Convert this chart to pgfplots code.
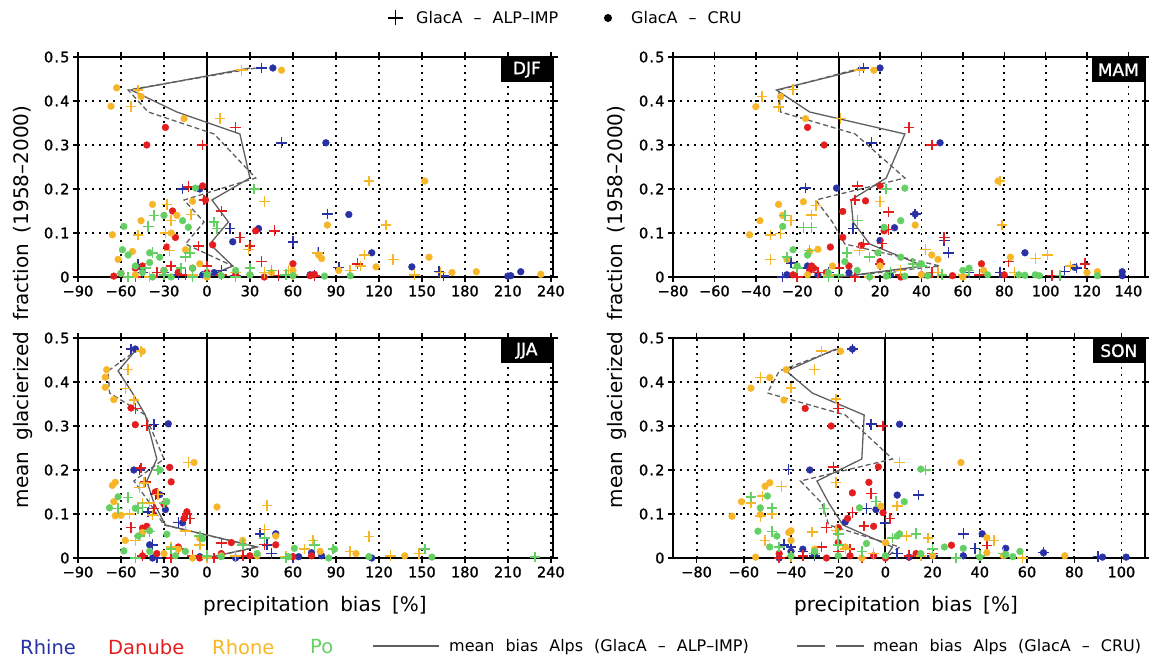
\documentclass[border=0pt]{standalone}
\usepackage{fontspec}
\setmainfont{DejaVu Sans}
\newfontfamily\tickfont[FakeBold=1.3]{DejaVu Sans}
\usepackage{pgfplots}
\pgfplotsset{compat=1.18}
\definecolor{rhine}{RGB}{40,50,165}
\definecolor{danube}{RGB}{228,30,30}
\definecolor{rhone}{RGB}{246,182,40}
\definecolor{po}{RGB}{100,208,100}
\definecolor{meangray}{RGB}{95,95,95}
\newcommand{\pt}{\kern1.2pt.\kern1.2pt}
\pgfplotsset{
 panel/.style={scale only axis, height=220pt, anchor=south west, clip=false,
  ymin=0, ymax=0.5, ytick={0,0.1,0.2,0.3,0.4,0.5}, yticklabels={0,0\pt1,0\pt2,0\pt3,0\pt4,0\pt5},
  xmajorgrids, ymajorgrids,
  major grid style={black, line width=1.8pt, dash pattern=on 1.8pt off 5.2pt},
  axis line style={line width=2.4pt, black},
  tick style={black, line width=1.4pt}, tick align=outside, major tick length=5pt,
  ticklabel style={font=\tickfont\fontsize{14.5}{14.5}\selectfont},
  /pgf/number format/assume math mode=true,
 },
 pl/.style={only marks, mark=+, mark size=5.3pt, mark options={line width=1.5pt}},
 dt/.style={only marks, mark=*, mark size=3.4pt, mark options={draw=none}},
 ms/.style={meangray, line width=1.3pt, no marks},
 md/.style={meangray, line width=1.3pt, no marks, dash pattern=on 5pt off 3pt},
}
\tikzset{boxlab/.style={anchor=north east, fill=black, text=white, inner xsep=6pt, minimum width=52pt, minimum height=25pt, font=\tickfont\fontsize{17}{17}\selectfont}}
\newcommand{\gap}{\hspace{11pt}}
\begin{document}
\begin{tikzpicture}[x=1pt,y=1pt]
\path[use as bounding box] (0,0) rectangle (1149,659);

% ---------------- DJF
\begin{axis}[panel, at={(78pt,382pt)}, width=475pt, xmin=-90, xmax=241.5,
  xtick={-90,-60,...,240}, xticklabels={−90,−60,−30,0,30,60,90,120,150,180,210,240}]
\draw[line width=2pt] (axis cs:0,0) -- (axis cs:0,0.5);
\addplot[pl, rhine] coordinates {(38,0.475) (52,0.305) (-17,0.2) (16,0.11) (84,0.143) (60,0.08) (78,0.055) (92,0.022) (162,0.012) (165,0.002) (-48,0.028) (-45,0.01) (-30,0.01) (10,0.015) (20,0.002) (-20,0.005) (75,0.003)};
\addplot[dt, rhine] coordinates {(46,0.475) (83,0.305) (-5,0.2) (36,0.11) (18,0.08) (99,0.142) (115,0.055) (143,0.023) (210,0.002) (219,0.012) (212,0.003) (72,0.005) (-3,0.005) (-20,0.01) (-45,0.02) (5,0.01)};
\addplot[pl, danube] coordinates {(20,0.34) (-3,0.3) (-13,0.205) (-2,0.175) (10,0.15) (23,0.09) (30,0.07) (47,0.105) (-6,0.07) (38,0.035) (105,0.03) (-25,0.025) (0,0.025) (-35,0.01) (-15,0.005) (10,0.005) (50,0.003) (75,0.002) (20,0.0) (-50,0.0)};
\addplot[dt, danube] coordinates {(-29,0.34) (-42,0.3) (-3,0.207) (-1,0.175) (-24,0.15) (-22,0.09) (-28,0.068) (34,0.105) (4,0.073) (60,0.03) (-65,0.002) (-60,0.008) (-50,0.02) (-45,0.025) (-30,0.015) (-20,0.01) (-10,0.02) (0,0.01) (20,0.005) (40,0.0) (72,0.003) (75,0.006)};
\addplot[pl, rhone] coordinates {(24,0.47) (-48,0.425) (-53,0.388) (9,0.36) (113,0.218) (40,0.172) (-28,0.165) (-25,0.128) (-11,0.142) (-29,0.1) (-48,0.095) (125,0.118) (29,0.062) (-26,0.06) (77,0.055) (130,0.04) (110,0.05) (107,0.025) (100,0.015) (145,0.005) (163,0.01) (57,0.015) (40,0.01) (20,0.01) (-40,0.0) (-10,0.005) (60,0.005)};
\addplot[dt, rhone] coordinates {(52,0.47) (-63,0.43) (-67,0.388) (-46,0.41) (-16,0.36) (152,0.218) (-38,0.165) (-46,0.128) (-21,0.14) (-10,0.172) (84,0.118) (-66,0.096) (-25,0.1) (-62,0.04) (-52,0.058) (-15,0.062) (80,0.042) (78,0.05) (155,0.045) (118,0.023) (171,0.01) (188,0.012) (233,0.006) (92,0.015) (60,0.015) (45,0.01) (-5,0.03) (-50,0.005) (0,0.0) (30,0.005)};
\addplot[pl, po] coordinates {(33,0.2) (-37,0.14) (-41,0.115) (5,0.125) (7,0.11) (-15,0.045) (-12,0.055) (-38,0.055) (-43,0.02) (-30,0.005) (-18,0.02) (30,0.02) (45,0.015) (20,0.0) (0,0.01) (-55,0.0) (-10,0.0) (55,0.005)};
\addplot[dt, po] coordinates {(-8,0.202) (-30,0.14) (-58,0.115) (-17,0.128) (-13,0.113) (-59,0.062) (-55,0.05) (-40,0.055) (-33,0.045) (-40,0.033) (-50,0.025) (-45,0.01) (-38,0.0) (-30,0.015) (-10,0.02) (0,0.005) (10,0.003) (20,0.015) (30,0.005) (60,0.003) (82,0.002) (100,0.003) (-60,0.008) (-25,0.0)};
\addplot[ms] coordinates {(30,0.475) (-53,0.425) (-21,0.375) (23,0.325) (30,0.225) (3.5,0.175) (15,0.125) (2,0.075) (18,0.025) (0,0)};
\addplot[md] coordinates {(34,0.475) (-55,0.425) (-41,0.375) (5,0.325) (34,0.225) (-16,0.175) (-2,0.125) (-15,0.075) (18,0.025) (0,0)};
\node[boxlab] at (rel axis cs:1,1) {DJF};
\end{axis}

% ---------------- MAM
\begin{axis}[panel, at={(673pt,382pt)}, width=472pt, xmin=-80, xmax=148,
  xtick={-80,-60,...,140}, xticklabels={−80,−60,−40,−20,0,20,40,60,80,100,120,140}]
\draw[line width=2pt] (axis cs:0,0) -- (axis cs:0,0.5);
\addplot[pl, rhine] coordinates {(12,0.475) (16,0.305) (-16,0.202) (7,0.11) (51,0.083) (53,0.055) (37,0.143) (-23,0.032) (109,0.012) (78,0.01) (-15,0.02) (-5,0.01) (-27,0.0) (63,0.01) (115,0.02)};
\addplot[dt, rhine] coordinates {(20,0.475) (49,0.305) (-1,0.202) (27,0.112) (20,0.083) (37,0.143) (90,0.055) (114,0.022) (137,0.012) (137,0.003) (-15,0.025) (-10,0.005) (5,0.01) (25,0.005) (-25,0.005)};
\addplot[pl, danube] coordinates {(34,0.34) (45,0.3) (9,0.207) (8,0.175) (24,0.148) (24,0.108) (21,0.076) (51,0.09) (12,0.075) (119,0.03) (82,0.035) (-10,0.01) (0,0.02) (20,0.03) (45,0.01) (68,0.005) (103,0.003) (-20,0.0) (30,0.005) (8,0.0)};
\addplot[dt, danube] coordinates {(-15,0.34) (-7,0.3) (20,0.207) (13,0.173) (2,0.149) (22,0.105) (-4,0.068) (2,0.09) (11,0.072) (69,0.03) (-13,0.025) (-12,0.02) (-14,0.015) (5,0.025) (20,0.035) (40,0.005) (80,0.005) (-22,0.005) (-6,0.01) (30,0.0) (55,0.003)};
\addplot[pl, rhone] coordinates {(10,0.47) (-22,0.426) (-37,0.41) (-29,0.386) (1,0.36) (78,0.218) (20,0.172) (-11,0.163) (-13,0.141) (-23,0.128) (-33,0.095) (-28,0.099) (79,0.118) (-33,0.04) (10,0.06) (42,0.062) (95,0.042) (101,0.05) (112,0.025) (48,0.01) (60,0.005) (30,0.015) (15,0.0) (-5,0.005) (85,0.01)};
\addplot[dt, rhone] coordinates {(17,0.47) (-28,0.41) (-40,0.387) (-16,0.36) (77,0.218) (-29,0.165) (-17,0.171) (-27,0.14) (-38,0.128) (-43,0.096) (37,0.118) (-10,0.063) (-14,0.058) (-25,0.04) (45,0.05) (48,0.04) (83,0.045) (70,0.015) (120,0.01) (125,0.012) (-3,0.025) (20,0.025) (40,0.005) (-15,0.005) (60,0.0)};
\addplot[pl, po] coordinates {(23,0.2) (-26,0.14) (-17,0.113) (-13,0.113) (9,0.128) (-25,0.045) (-14,0.06) (4,0.055) (15,0.045) (36,0.03) (40,0.025) (63,0.015) (-5,0.0) (0,0.005) (25,0.01) (107,0.003) (-20,0.02) (50,0.005)};
\addplot[dt, po] coordinates {(32,0.202) (30,0.128) (22,0.113) (-27,0.115) (-22,0.062) (-15,0.05) (19,0.055) (3,0.035) (-20,0.025) (9,0.015) (30,0.045) (40,0.03) (32,0.002) (43,0.003) (60,0.015) (63,0.02) (72,0.005) (87,0.005) (90,0.004) (95,0.005) (97,0.003) (125,0.003) (-5,0.01) (23,0.002) (15,0.0)};
\addplot[ms] coordinates {(13,0.475) (-30,0.425) (-14,0.375) (32,0.325) (23,0.225) (6,0.175) (7,0.125) (15,0.075) (41,0.025) (0,0)};
\addplot[md] coordinates {(11,0.475) (-29,0.425) (-28,0.375) (8,0.325) (32,0.225) (-11,0.175) (-3,0.125) (3,0.075) (49,0.025) (0,0)};
\node[boxlab] at (rel axis cs:1,1) {MAM};
\end{axis}

% ---------------- JJA
\begin{axis}[panel, at={(78pt,101pt)}, width=475pt, xmin=-90, xmax=241.5,
  xtick={-90,-60,...,240}, xticklabels={−90,−60,−30,0,30,60,90,120,150,180,210,240}]
\draw[line width=2pt] (axis cs:0,0) -- (axis cs:0,0.5);
\addplot[pl, rhine] coordinates {(-53,0.475) (-37,0.303) (-47,0.2) (-41,0.105) (-20,0.081) (-36,0.145) (37,0.055) (42,0.03) (45,0.01) (-38,0.03) (-35,0.0) (0,0.0) (20,0.005) (60,0.0)};
\addplot[dt, rhine] coordinates {(-50,0.475) (-27,0.305) (-51,0.2) (-29,0.11) (-17,0.08) (-33,0.144) (-40,0.03) (-38,0.0) (48,0.055) (73,0.012) (80,0.005) (115,0.0) (64,0.003) (-5,0.003) (20,0.0)};
\addplot[pl, danube] coordinates {(-50,0.34) (-42,0.301) (-46,0.205) (-43,0.173) (-35,0.146) (-12,0.09) (-53,0.069) (-37,0.113) (-14,0.1) (10,0.034) (40,0.031) (-20,0.02) (-45,0.005) (-25,0.0) (5,0.0) (25,0.005) (-10,0.005)};
\addplot[dt, danube] coordinates {(-53,0.341) (-50,0.303) (-26,0.206) (-25,0.173) (-36,0.15) (-14,0.105) (-16,0.09) (-42,0.072) (-45,0.068) (-30,0.122) (-20,0.025) (-45,0.005) (-35,0.01) (17,0.035) (48,0.03) (73,0.005) (-5,0.0) (10,0.01) (30,0.005) (60,0.003)};
\addplot[pl, rhone] coordinates {(-46,0.47) (-55,0.428) (-57,0.385) (-51,0.359) (-13,0.217) (-44,0.171) (-47,0.16) (-34,0.144) (-45,0.125) (-54,0.1) (-38,0.098) (-50,0.04) (-15,0.061) (42,0.119) (40,0.065) (113,0.049) (-40,0.125) (74,0.04) (68,0.02) (100,0.015) (128,0.005) (148,0.01) (-25,0.025) (-5,0.03) (20,0.005) (0,0.0) (55,0.003)};
\addplot[dt, rhone] coordinates {(-45,0.47) (-70,0.428) (-71,0.411) (-71,0.388) (-65,0.36) (-9,0.217) (-64,0.172) (-66,0.165) (-65,0.128) (-64,0.096) (-60,0.097) (-57,0.04) (-45,0.058) (7,0.116) (-5,0.045) (25,0.04) (48,0.05) (79,0.015) (104,0.01) (138,0.005) (-20,0.02) (-30,0.01) (35,0.005) (-10,0.0) (10,0.005)};
\addplot[pl, po] coordinates {(-34,0.2) (-55,0.138) (-62,0.112) (-48,0.113) (-40,0.06) (-47,0.05) (-50,0.0) (-30,0.125) (-45,0.115) (-5,0.05) (25,0.03) (40,0.045) (75,0.03) (88,0.02) (152,0.02) (229,0.002) (-25,0.02) (0,0.005) (55,0.0)};
\addplot[dt, po] coordinates {(-33,0.2) (-28,0.128) (-68,0.114) (-62,0.139) (-50,0.113) (-40,0.062) (-48,0.05) (-58,0.016) (-28,0.054) (-3,0.044) (61,0.022) (89,0.02) (-22,0.005) (10,0.003) (35,0.01) (57,0.003) (85,0.0) (113,0.003) (157,0.002) (-40,0.015) (-15,0.015)};
\addplot[ms] coordinates {(-49,0.475) (-62,0.425) (-52,0.375) (-43,0.325) (-35,0.225) (-42,0.175) (-37,0.125) (-29,0.075) (35,0.025) (0,0)};
\addplot[md] coordinates {(-48,0.475) (-69,0.425) (-68,0.375) (-43,0.325) (-30,0.225) (-51,0.175) (-40,0.125) (-30,0.075) (35,0.025) (0,0)};
\node[boxlab] at (rel axis cs:1,1) {JJA};
\end{axis}

% ---------------- SON
\begin{axis}[panel, at={(673pt,101pt)}, width=472pt, xmin=-90, xmax=110,
  xtick={-80,-60,...,100}, xticklabels={−80,−60,−40,−20,0,20,40,60,80,100}]
\draw[line width=2pt] (axis cs:0,0) -- (axis cs:0,0.5);
\addplot[pl, rhine] coordinates {(-14,0.475) (-6,0.304) (-41,0.201) (14,0.143) (-8,0.112) (0,0.08) (33,0.055) (38,0.022) (67,0.012) (90,0.003) (-43,0.03) (-35,0.015) (-30,0.005) (-40,0.025) (-10,0.0) (20,0.005) (5,0.01)};
\addplot[dt, rhine] coordinates {(-14,0.475) (6,0.304) (-32,0.2) (5,0.143) (-4,0.11) (-17,0.082) (41,0.055) (51,0.022) (67,0.012) (92,0.002) (102,0.002) (-35,0.02) (-40,0.015) (-30,0.01) (33,0.005) (-45,0.0) (10,0.002)};
\addplot[pl, danube] coordinates {(-20,0.34) (-1,0.3) (-22,0.207) (-21,0.172) (-6,0.147) (-14,0.103) (2,0.09) (-9,0.073) (-25,0.069) (-27,0.025) (43,0.028) (-20,0.015) (-45,0.0) (-10,0.0) (10,0.005) (20,0.01) (-35,0.005) (-15,0.02)};
\addplot[dt, danube] coordinates {(-34,0.34) (-23,0.3) (-3,0.207) (-7,0.172) (-14,0.148) (-1,0.103) (-16,0.09) (-5,0.072) (-20,0.069) (28,0.029) (-20,0.035) (-45,0.01) (-30,0.015) (-15,0.005) (0,0.0) (13,0.01) (-25,0.0) (-5,0.005)};
\addplot[pl, rhone] coordinates {(-27,0.47) (-30,0.428) (-53,0.41) (-40,0.386) (-21,0.361) (6,0.217) (-44,0.162) (-21,0.172) (-52,0.141) (-57,0.125) (-48,0.1) (-53,0.095) (5,0.118) (-31,0.059) (-21,0.062) (-51,0.04) (9,0.05) (18,0.045) (46,0.04) (-17,0.02) (-5,0.01) (15,0.005) (30,0.0) (58,0.0) (-40,0.003)};
\addplot[dt, rhone] coordinates {(-19,0.47) (-42,0.428) (-49,0.41) (-57,0.386) (-43,0.359) (32,0.217) (-49,0.171) (-51,0.163) (-61,0.128) (-65,0.095) (-53,0.099) (-2,0.118) (-40,0.062) (-41,0.058) (-40,0.04) (-55,0.002) (-17,0.025) (0,0.035) (43,0.046) (43,0.012) (76,0.005) (20,0.005) (-10,0.0) (50,0.005) (-30,0.02)};
\addplot[pl, po] coordinates {(17,0.2) (-57,0.139) (-48,0.114) (-26,0.113) (-4,0.128) (-48,0.06) (-20,0.055) (13,0.055) (3,0.045) (20,0.02) (-30,0.01) (-45,0.025) (-10,0.015) (30,0.0) (40,0.005) (-20,0.03) (50,0.01)};
\addplot[dt, po] coordinates {(15,0.202) (8,0.128) (-11,0.114) (-53,0.114) (-50,0.141) (-54,0.061) (-46,0.05) (-8,0.033) (6,0.055) (5,0.05) (-49,0.025) (-30,0.015) (25,0.025) (33,0.022) (57,0.015) (51,0.008) (54,0.003) (-40,0.005) (-20,0.005) (0,0.005) (15,0.01) (40,0.002)};
\addplot[ms] coordinates {(-21,0.475) (-42,0.425) (-31,0.375) (-9,0.325) (-10,0.225) (-29,0.175) (-24,0.125) (-18,0.075) (3,0.025) (0,0)};
\addplot[md] coordinates {(-20,0.475) (-45,0.425) (-50,0.375) (-17,0.325) (3,0.225) (-36,0.175) (-27,0.125) (-24,0.075) (6,0.025) (0,0)};
\node[boxlab] at (rel axis cs:1,1) {SON};
\end{axis}

% ---------------- axis titles
\node[font=\fontsize{20}{20}\selectfont] at (315pt,53pt) {precipitation\gap bias\gap [\%]};
\node[font=\fontsize{20}{20}\selectfont] at (906pt,53pt) {precipitation\gap bias\gap [\%]};
\node[font=\fontsize{20}{20}\selectfont, rotate=90] at (23pt,352pt) {mean\gap glacierized\gap fraction\gap (1958–2000)};
\node[font=\fontsize{20}{20}\selectfont, rotate=90] at (617pt,352pt) {mean\gap glacierized\gap fraction\gap (1958–2000)};

% ---------------- top legend
\draw[line width=1.4pt] (388pt,641pt) -- (403pt,641pt) (395.5pt,633.5pt) -- (395.5pt,648.5pt);
\node[anchor=west, font=\fontsize{16}{16}\selectfont, inner sep=0pt] at (416pt,641pt) {GlacA\gap–\gap ALP–IMP};
\fill (608pt,641pt) circle (4pt);
\node[anchor=west, font=\fontsize{16}{16}\selectfont, inner sep=0pt] at (631pt,641pt) {GlacA\gap–\gap CRU};

% ---------------- bottom legend
\node[anchor=west, font=\fontsize{19.5}{19.5}\selectfont, text=rhine, inner sep=0pt] at (20pt,12pt) {Rhine};
\node[anchor=west, font=\fontsize{19.5}{19.5}\selectfont, text=danube, inner sep=0pt] at (108pt,12pt) {Danube};
\node[anchor=west, font=\fontsize{19.5}{19.5}\selectfont, text=rhone, inner sep=0pt] at (212pt,12pt) {Rhone};
\node[anchor=west, font=\fontsize{19.5}{19.5}\selectfont, text=po, inner sep=0pt] at (310pt,12pt) {Po};
\draw[meangray, line width=1.4pt] (373pt,13pt) -- (439pt,13pt);
\node[anchor=west, font=\fontsize{16}{16}\selectfont, inner sep=0pt] at (449pt,12pt) {mean\gap bias\gap Alps\gap (GlacA\gap–\gap ALP–IMP)};
\draw[meangray, line width=1.4pt] (797pt,13pt) -- (825pt,13pt) (836pt,13pt) -- (864pt,13pt);
\node[anchor=west, font=\fontsize{16}{16}\selectfont, inner sep=0pt] at (873pt,12pt) {mean\gap bias\gap Alps\gap (GlacA\gap–\gap CRU)};
\end{tikzpicture}
\end{document}
